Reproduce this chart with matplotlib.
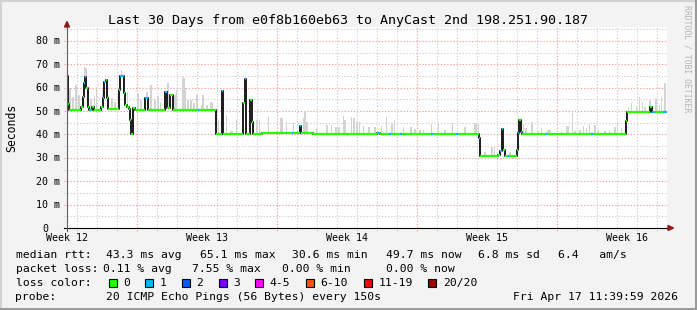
import matplotlib
matplotlib.use("Agg")
import matplotlib.pyplot as plt
from matplotlib.patches import Rectangle, Polygon
from matplotlib.lines import Line2D
from matplotlib.transforms import Affine2D, offset_copy
import numpy as np

# canvas and plot box in pixels (rrdtool layout)
W, H, DPI = 697, 310, 100
X0, X1, Y0, Y1 = 67, 667, 228, 27
MONO = "DejaVu Sans Mono"
BG, GRID, MGRID, AXRED = "#f3f3f3", "#d0d0d0", "#f2a2a2", "#8b1c1c"

# ---- values ----
days = 30
ymax = 85.9
y_ticks = [0, 10, 20, 30, 40, 50, 60, 70, 80]
week_days = [0, 7, 14, 21, 28]
week_labels = ["Week 12", "Week 13", "Week 14", "Week 15", "Week 16"]

# median rtt as steps: start day, ms, loss bucket (0 = no loss, 1 = 1/20)
step_day = [0.00, 0.04, 0.08, 0.70, 0.78, 0.83, 0.90, 0.97, 1.03, 1.10, 1.18, 1.25, 1.33,
            1.72, 1.78, 1.85, 1.93, 2.00, 2.07, 2.58, 2.67, 2.83, 2.92, 3.00, 3.08, 3.15,
            3.22, 3.30, 3.38, 3.45, 3.92, 4.03, 4.92, 5.00, 5.17, 5.28, 6.55, 6.62,
            7.45, 7.73, 7.82, 8.82, 8.88, 8.97, 9.15, 9.23, 9.28, 9.73, 10.68, 10.75,
            11.25, 11.32, 11.65, 11.72, 12.32, 13.95, 15.50, 15.65, 16.12, 16.18, 16.65,
            16.75, 16.88, 16.93, 18.22, 18.28, 19.47, 19.53, 20.58, 20.67, 21.57, 21.65,
            21.73, 21.82, 21.90, 22.05, 22.12, 22.48, 22.55, 22.60, 22.68, 22.73, 23.95,
            24.02, 26.22, 26.28, 27.95, 28.02, 29.15, 29.23, 29.38, 29.78]
step_ms = [64.8, 53.0, 50.4, 51.8, 56.0, 62.0, 64.5, 60.0, 51.5, 50.4, 50.4, 51.8, 50.5,
           51.6, 55.7, 62.5, 63.3, 55.5, 50.8, 59.0, 65.1, 57.6, 52.6, 51.9, 50.8, 46.0,
           40.3, 51.1, 50.5, 50.5, 55.5, 50.5, 58.3, 51.2, 56.8, 50.5, 50.6, 50.5,
           40.1, 58.6, 40.1, 53.6, 63.7, 40.1, 54.7, 45.4, 40.1, 40.5, 40.5, 40.5,
           40.5, 40.5, 43.5, 40.5, 40.0, 40.2, 40.6, 40.0, 40.0, 40.0, 40.0,
           40.0, 40.0, 40.0, 40.0, 40.0, 40.0, 40.0, 38.3, 30.6, 31.2, 33.0,
           42.3, 33.3, 30.6, 30.6, 30.6, 33.3, 40.5, 46.0, 41.0, 40.0, 40.0,
           40.0, 40.0, 40.0, 45.7, 49.7, 51.9, 49.7, 49.7, 49.7]
step_loss = [1, 0, 0, 0, 0, 1, 1, 0, 0, 1, 0, 0, 0,
             0, 1, 1, 0, 0, 0, 0, 1, 0, 0, 0, 0, 0,
             0, 0, 1, 0, 1, 0, 1, 0, 0, 0, 1, 0,
             0, 1, 0, 0, 1, 0, 0, 0, 0, 0, 1, 0,
             1, 0, 1, 0, 0, 0, 1, 0, 1, 0, 1,
             0, 1, 0, 1, 0, 1, 0, 1, 0, 0, 1,
             1, 0, 0, 1, 0, 0, 1, 0, 1, 0, 1,
             0, 1, 0, 0, 0, 0, 1, 0, 1]

# smoke (spread of the pings): day, top in ms
smoke_day = [0.15, 0.30, 0.45, 0.60, 0.88, 0.95, 1.20, 1.38, 1.48, 1.80, 2.05, 2.25, 2.40,
             2.72, 2.78, 3.02, 3.55, 3.70, 4.00, 4.20, 4.40, 4.55, 4.68, 5.05, 5.40, 5.48,
             5.78, 5.85, 5.92, 6.05, 6.20, 6.35, 6.50, 6.72, 6.80, 7.00, 7.20, 7.27,
             7.57, 7.98, 8.20, 8.28, 8.48, 8.98, 9.50, 9.62, 10.07, 10.70, 10.78, 10.98,
             11.32, 11.85, 11.90, 12.00, 12.48,
             13.00, 13.23, 13.45, 13.60, 13.82, 13.90, 14.23, 14.35, 14.50, 14.62, 14.82,
             15.10, 15.40, 15.73, 15.98, 16.25, 16.38, 16.82, 17.20, 17.40, 17.65, 17.82,
             18.23, 18.57, 18.90, 19.27, 19.90, 20.37, 20.45, 20.57, 20.90, 21.25, 21.38,
             21.82, 22.15, 22.82, 22.95, 23.25, 23.57, 23.73, 24.05, 24.15, 24.73, 25.00,
             25.07, 25.27, 25.40, 25.65, 25.82, 25.98, 26.12, 26.40, 26.57, 26.90, 27.12,
             27.40, 27.52, 27.73, 28.07, 28.23, 28.48, 28.62, 28.78, 28.90, 29.15, 29.45,
             29.62, 29.73, 29.90]
smoke_top = [59.8, 56.0, 61.0, 57.0, 69.0, 68.5, 55.0, 56.4, 59.6, 59.0, 57.0, 55.5, 54.0,
             67.5, 66.0, 58.0, 57.7, 54.5, 58.0, 61.0, 55.0, 56.6, 54.0, 62.0, 57.0, 59.0,
             64.7, 64.0, 60.0, 54.7, 54.7, 53.5, 57.0, 52.6, 56.8, 52.6, 54.0, 53.3,
             46.0, 48.1, 41.4, 41.4, 46.0, 47.3, 46.0, 46.0, 47.6, 47.0, 47.0, 45.5,
             44.8, 47.1, 50.0, 45.5, 42.9,
             44.0, 44.0, 43.0, 43.0, 48.0, 46.0, 47.6, 47.0, 45.5, 45.5, 43.8,
             43.0, 43.0, 43.8, 47.6, 45.0, 46.0, 43.0, 43.0, 42.3, 41.8, 41.8,
             44.3, 44.3, 41.8, 44.9, 43.0, 45.0, 44.9, 44.3, 32.6, 34.7, 34.7,
             37.0, 32.4, 44.3, 42.9, 45.3, 41.4, 42.9, 41.8, 41.8, 41.4, 43.5,
             43.5, 49.1, 41.4, 41.8, 43.5, 42.9, 44.3, 44.0, 41.8, 41.4, 41.8,
             43.0, 44.9, 42.9, 51.9, 53.3, 51.9, 56.1, 54.0, 51.9, 54.7, 55.4,
             52.6, 56.1, 61.9]

loss_labels = ["0", "1", "2", "3", "4-5", "6-10", "11-19", "20/20"]
loss_colors = ["#26ff00", "#00b8ff", "#0059ff", "#7e00ff", "#ff00ff", "#ff5500", "#ff0000", "#a00000"]

rtt_names = ["avg", "max", "min", "now"]
rtt_ms = [43.3, 65.1, 30.6, 49.7]
rtt_sd = 6.8
rtt_am_s = 6.4
loss_pct = [0.11, 7.55, 0.00, 0.00]

title = "Last 30 Days from e0f8b160eb63 to AnyCast 2nd 198.251.90.187"
probe = "20 ICMP Echo Pings (56 Bytes) every 150s"
stamp = "Fri Apr 17 11:39:59 2026"

# ---- figure ----
fig = plt.figure(figsize=(W / DPI, H / DPI), dpi=DPI, facecolor=BG)
PX = Affine2D().scale(1 / W, -1 / H).translate(0, 1) + fig.transFigure
ax = fig.add_axes([X0 / W, 1 - Y0 / H, (X1 - X0) / W, (Y0 - Y1) / H])
ax.set_xlim(0, days)
ax.set_ylim(0, ymax)
ax.set_facecolor("white")
for s in ax.spines.values():
    s.set_visible(False)
ax.set_xticks([])
ax.set_yticks([])

# grid, sticking out 3 px past the axes like rrdtool does
out_y, out_x = 3 / (Y0 - Y1), 3 / (X1 - X0)
for d in np.arange(0.5, days, 1):
    major = (d - 3.5) % 7 == 0
    ax.axvline(d, ymin=-out_y, ymax=1, color=MGRID if major else GRID, lw=0.8,
               dashes=(1.2, 1.6), clip_on=False, zorder=0.5)
for v in range(5, 86, 5):
    major = v % 10 == 0
    ax.axhline(v, xmin=-out_x, xmax=1, color=MGRID if major else GRID, lw=0.8,
               dashes=(1.2, 1.6), clip_on=False, zorder=0.5)

# smoke above the median
sd = np.array(step_day + [days])
sv = np.array(step_ms)
base = sv[np.searchsorted(sd, smoke_day, side="right") - 1]
ax.bar(smoke_day, np.array(smoke_top) - base, bottom=base, width=0.07,
       color="#d3d3d3", zorder=2)

# median line: black transitions, loss-coloured flats
ax.step(sd, np.append(sv, sv[-1]), where="post", color="#1c1c1c", lw=1.4, zorder=3)
ax.hlines(sv, sd[:-1], sd[1:], colors=[loss_colors[l] for l in step_loss],
          lw=1.6, zorder=4, capstyle="butt")

# axes + arrows
ax.plot([-out_x, 1.008], [0, 0], transform=ax.transAxes, color="#000000", lw=0.8,
        clip_on=False, zorder=5)
ax.plot([0, 0], [-out_y, 1.0], transform=ax.transAxes, color="#606060", lw=0.8,
        clip_on=False, zorder=5)
fig.add_artist(Polygon([(64.5, 27), (69.5, 27), (67, 21.5)], closed=True, color=AXRED, transform=PX))
fig.add_artist(Polygon([(668, 225.5), (668, 230.5), (673.5, 228)], closed=True, color=AXRED, transform=PX))

# tick labels
ytr = offset_copy(ax.get_yaxis_transform(), fig=fig, y=-3.5, units="dots")
for v in y_ticks:
    lab = "0" if v == 0 else f"{v} m"
    xo = -19 / (X1 - X0) if v == 0 else -7 / (X1 - X0)
    ax.text(xo, v, lab, transform=ytr, ha="right", va="baseline", family=MONO, fontsize=7.2)
xtr = offset_copy(ax.get_xaxis_transform(), fig=fig, y=-13, units="dots")
for d, lab in zip(week_days, week_labels):
    ax.text(d, 0, lab, transform=xtr, ha="center", va="baseline", family=MONO, fontsize=7.2)

# title, axis label, watermark
fig.text(347.5, 24, title, transform=PX, ha="center", va="baseline", family=MONO, fontsize=9.6)
fig.text(11.5, 127.5, "Seconds", transform=PX, ha="center", va="center", rotation=90,
         family=MONO, fontsize=8.3)
fig.text(687, 5, "RRDTOOL / TOBI OETIKER", transform=PX, ha="center", va="top", rotation=270,
         family=MONO, fontsize=5.9, color="#b4b4b4")

# legend block
LF = dict(transform=PX, ha="left", va="baseline", family=MONO, fontsize=8.2)
fig.text(15.5, 258, "median rtt:", **LF)
for x, val, nm in zip([106.5, 199.5, 292.5, 385.5], rtt_ms, rtt_names):
    fig.text(x, 258, f"{val:.1f} ms {nm}", **LF)
fig.text(478.5, 258, f"{rtt_sd:.1f} ms sd", **LF)
fig.text(557.5, 258, f"{rtt_am_s:.1f}   am/s", **LF)

fig.text(15.5, 272, "packet loss:", **LF)
for x, val, nm in zip([103, 192, 282, 385.5], loss_pct, rtt_names):
    fig.text(x, 272, f"{val:.2f} % {nm}", **LF)

fig.text(15.5, 286, "loss color:", **LF)
tx = 123
for lab, col in zip(loss_labels, loss_colors):
    fig.add_artist(Rectangle((tx - 14.5, 278.5), 8, 8, facecolor=col, edgecolor="#000000",
                             lw=0.8, transform=PX))
    fig.text(tx, 286, lab, **LF)
    tx += len(lab) * 7.0 + 29.7

fig.text(15.5, 299.5, "probe:", **LF)
fig.text(106.5, 299.5, probe, **LF)
fig.text(513, 299.5, stamp, **LF)

# 3d-ish frame
fig.add_artist(Line2D([0, W], [0.5, 0.5], color="#d2d2d2", lw=1.5, transform=PX))
fig.add_artist(Line2D([0.5, 0.5], [0, H], color="#d2d2d2", lw=1.5, transform=PX))
fig.add_artist(Line2D([0, W], [H - 1.2, H - 1.2], color="#9a9a9a", lw=2.2, transform=PX))
fig.add_artist(Line2D([W - 1.2, W - 1.2], [0, H], color="#9a9a9a", lw=2.2, transform=PX))

fig.savefig("out.png", dpi=DPI, facecolor=BG)
